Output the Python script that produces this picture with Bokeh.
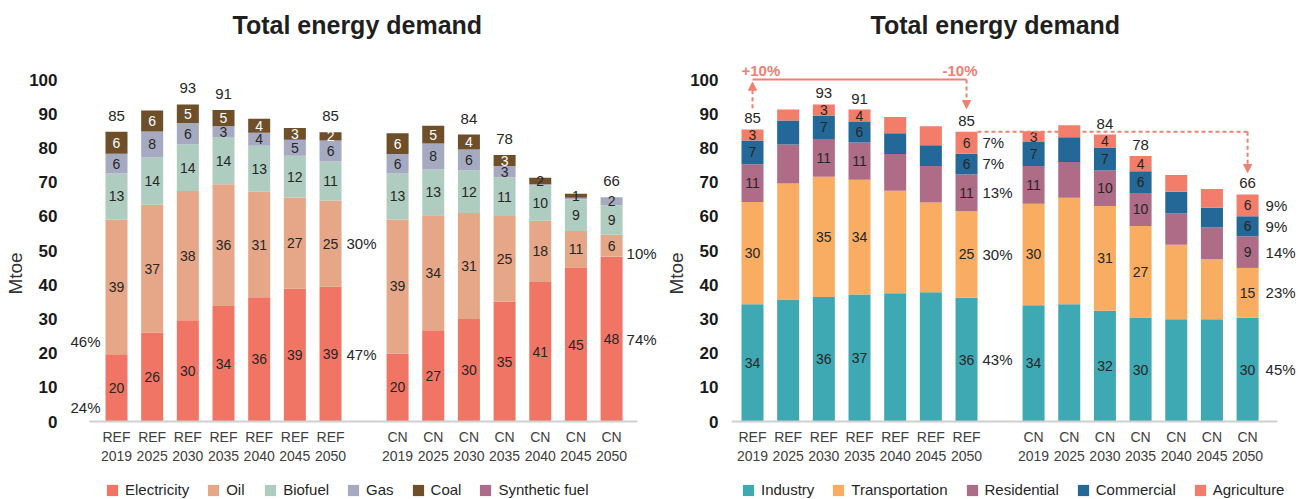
from bokeh.plotting import figure
from bokeh.layouts import row
from bokeh.models import (ColumnDataSource, FixedTicker, Legend, LegendItem, Arrow,
                          NormalHead, Range1d)
from bokeh.core.properties import value
from bokeh.embed import file_html
from bokeh.resources import INLINE

FONT = "Liberation Sans"
DARK = "#262626"

# ---------------- data ----------------
scenarios = ["REF", "REF", "REF", "REF", "REF", "REF", "REF",
             "CN", "CN", "CN", "CN", "CN", "CN", "CN"]
years = ["2019", "2025", "2030", "2035", "2040", "2045", "2050",
         "2019", "2025", "2030", "2035", "2040", "2045", "2050"]

# Left chart: by fuel (Mtoe)
fuel_names = ["Electricity", "Oil", "Biofuel", "Gas", "Coal", "Synthetic fuel"]
electricity = [19.7, 26.0, 29.6, 33.8, 36.3, 38.8, 39.4, 19.9, 26.7, 30.0, 35.0, 40.8, 44.9, 48.2]
oil = [39.4, 37.4, 37.8, 35.6, 30.9, 26.7, 25.2, 39.2, 33.6, 31.0, 25.1, 17.9, 10.8, 6.4]
biofuel = [13.4, 13.8, 13.7, 13.8, 13.4, 12.2, 11.4, 13.4, 13.4, 12.4, 11.3, 10.3, 9.3, 8.6]
gas = [5.8, 7.6, 6.2, 3.1, 3.8, 4.7, 6.2, 5.7, 7.6, 6.1, 3.3, 0.4, 0.4, 2.4]
coal = [6.4, 6.1, 5.4, 4.8, 4.1, 3.4, 2.4, 6.1, 5.2, 4.4, 3.2, 1.9, 1.2, 0.0]
synthetic_fuel = [0.0, 0.0, 0.0, 0.0, 0.0, 0.0, 0.0, 0.0, 0.0, 0.0, 0.0, 0.0, 0.0, 0.0]
fuel_colors = ["#f07565", "#e5a787", "#aecdc0", "#a6aac1", "#6e4f2a", "#ae6c8a"]
fuel_labeled = [True, True, True, True, True, True, True,
                True, True, True, True, True, True, True]
fuel_total_shown = [True, False, True, True, False, False, True,
                    False, False, True, True, False, False, True]

# Right chart: by sector (Mtoe)
sector_names = ["Industry", "Transportation", "Residential", "Commercial", "Agriculture"]
industry = [34.3, 35.7, 36.4, 37.1, 37.5, 37.8, 36.2, 34.0, 34.3, 32.4, 30.4, 29.9, 29.9, 30.3]
transportation = [29.9, 33.9, 35.2, 33.6, 30.0, 26.2, 25.3, 29.7, 31.1, 30.6, 26.8, 21.8, 17.5, 14.6]
residential = [11.0, 11.4, 11.0, 10.9, 10.7, 10.7, 10.8, 11.0, 10.5, 10.4, 9.6, 9.1, 9.3, 9.3]
commercial = [7.0, 7.0, 6.9, 6.0, 6.1, 6.1, 6.0, 7.0, 7.2, 6.7, 6.4, 6.4, 5.8, 5.8]
agriculture = [3.2, 3.2, 3.2, 3.6, 4.7, 5.5, 6.4, 3.2, 3.5, 3.8, 4.4, 4.9, 5.5, 6.4]
sector_colors = ["#3ea8b3", "#f8ad62", "#af6c87", "#236896", "#f27d6a"]
sector_labeled = [True, False, True, True, False, False, True,
                  True, False, True, True, False, False, True]
sector_total_shown = [True, False, True, True, False, False, True,
                      False, False, True, True, False, False, True]

# share annotations
fuel_share_ref2019 = ["24%", "46%"]          # electricity, oil
fuel_share_ref2050 = ["47%", "30%"]          # electricity, oil
fuel_share_cn2050 = ["74%", "10%"]           # electricity, oil
sector_share_ref2050 = ["43%", "30%", "13%", "7%", "7%"]
sector_share_cn2050 = ["45%", "23%", "14%", "9%", "9%"]
change_labels = ["+10%", "-10%"]

# ---------------- layout helpers ----------------
GAP = 1.88
xpos = [float(i) for i in range(7)] + [round(6 + GAP + i, 2) for i in range(7)]
tick_text = {x: f"{s}\n{y}" for x, s, y in zip(xpos, scenarios, years)}
BAR_W = 0.617
HALF = BAR_W / 2
FIG_H = 499
TOP = 47                        # frame top (px)
BASE = 421                      # baseline (px)
PY = 3.42                       # px per Mtoe
Y_HIGH = (BASE - TOP) / PY
Y_LOW = -(FIG_H - BASE) / PY    # frame reaches below the baseline to hold the legend
BORDER_L = 70


def make_fig(width, x_start, x_end, bounds, title_offset):
    p = figure(width=width, height=FIG_H,
               x_range=Range1d(x_start, x_end), y_range=Range1d(Y_LOW, Y_HIGH),
               output_backend="svg", toolbar_location=None,
               min_border_left=BORDER_L, min_border_right=0,
               min_border_top=TOP, min_border_bottom=0,
               title="Total energy demand")
    p.title.text_font = FONT
    p.title.text_font_size = "25px"
    p.title.text_font_style = "bold"
    p.title.text_color = "#1f1f1f"
    p.title.align = "left"
    p.title.offset = title_offset
    p.title.standoff = 17
    p.xgrid.visible = False
    p.ygrid.visible = False
    p.outline_line_color = None

    xa = p.xaxis[0]
    xa.fixed_location = 0
    xa.ticker = FixedTicker(ticks=xpos)
    xa.major_label_overrides = tick_text
    xa.bounds = bounds
    xa.axis_line_color = "#d0d0d0"
    xa.axis_line_width = 2
    xa.major_tick_line_color = None
    xa.minor_tick_line_color = None
    xa.major_label_text_font = FONT
    xa.major_label_text_font_size = "14px"
    xa.major_label_text_color = "#404040"
    xa.major_label_standoff = 1

    ya = p.yaxis[0]
    ya.ticker = FixedTicker(ticks=[0, 10, 20, 30, 40, 50, 60, 70, 80, 90, 100])
    ya.bounds = (0, 100)
    ya.axis_line_color = None
    ya.major_tick_line_color = None
    ya.minor_tick_line_color = None
    ya.major_label_text_font = FONT
    ya.major_label_text_font_size = "17px"
    ya.major_label_text_font_style = "bold"
    ya.major_label_text_color = "#1a1a1a"
    ya.major_label_standoff = 7
    ya.axis_label = "Mtoe"
    ya.axis_label_text_font = FONT
    ya.axis_label_text_font_size = "19px"
    ya.axis_label_text_font_style = "normal"
    ya.axis_label_text_color = "#333333"
    ya.axis_label_standoff = 0
    return p


def add_stack(p, names, series, colors, labeled, total_shown, light_min, total_offset, legend_x):
    data = {"x": xpos}
    for n, s in zip(names, series):
        data[n] = s
    src = ColumnDataSource(data)
    rs = p.vbar_stack(names, x="x", width=BAR_W, source=src,
                      fill_color=colors, line_color=None)

    lx, ly, lt, lc = [], [], [], []
    bottoms = [0.0] * len(xpos)
    for k, vals in enumerate(series):
        for i, v in enumerate(vals):
            if labeled[i] and round(v) >= 1:
                lx.append(xpos[i])
                ly.append(bottoms[i] + v / 2)
                lt.append(str(int(round(v))))
                lc.append("#ffffff" if v >= light_min[k] else DARK)
            bottoms[i] += v
    p.text(x=lx, y=ly, text=lt, text_color=lc, text_font=value(FONT),
           text_font_size="14px", text_align="center", text_baseline="middle")

    tx = [xpos[i] for i in range(len(xpos)) if total_shown[i]]
    ty = [bottoms[i] for i in range(len(xpos)) if total_shown[i]]
    tt = [str(int(round(bottoms[i]))) for i in range(len(xpos)) if total_shown[i]]
    p.text(x=tx, y=ty, text=tt, text_color=DARK, text_font=value(FONT),
           text_font_size="15px", text_align="center", text_baseline="middle",
           y_offset=total_offset)

    legend = Legend(items=[LegendItem(label=n, renderers=[r]) for n, r in zip(names, rs)],
                    location=(legend_x, 1), orientation="horizontal",
                    padding=0, margin=0, spacing=17, label_standoff=6,
                    glyph_width=14, glyph_height=14, label_height=14,
                    label_text_font=FONT, label_text_font_size="15px",
                    label_text_color=DARK, border_line_color=None,
                    background_fill_alpha=0)
    p.add_layout(legend)
    return bottoms


def centers(series, i):
    out, b = [], 0.0
    for s in series:
        out.append(b + s[i] / 2)
        b += s[i]
    return out


def share_text(p, x, ys, texts, x_offset, align="left", y_offset=0, size="15px"):
    p.text(x=[x] * len(ys), y=ys, text=texts, text_color=DARK, text_font=value(FONT),
           text_font_size=size, text_align=align, text_baseline="middle",
           x_offset=x_offset, y_offset=y_offset)


PX = 35.67
# ---------------- left chart (page x 0 .. 661, frame from 70) ----------------
W1 = 661
p1 = make_fig(W1, (BORDER_L - 116) / PX, (W1 - 116) / PX,
              ((89 - 116) / PX, (637 - 116) / PX), 162)
fuel_series = [electricity, oil, biofuel, gas, coal, synthetic_fuel]
add_stack(p1, fuel_names, fuel_series, fuel_colors, fuel_labeled, fuel_total_shown,
          [1e9, 1e9, 1e9, 1e9, 2.0, 1e9], -16, 35)

share_text(p1, xpos[0] - HALF, [0.0], [fuel_share_ref2019[0]], -5, "right", -14)
share_text(p1, xpos[0] - HALF, [electricity[0]], [fuel_share_ref2019[1]], -5, "right", -13)
c6 = centers(fuel_series, 6)
share_text(p1, xpos[6] + HALF, [c6[0], c6[1]], fuel_share_ref2050, 5)
c13 = centers(fuel_series, 13)
share_text(p1, xpos[13] + HALF, [c13[0]], [fuel_share_cn2050[0]], 4)
share_text(p1, xpos[13] + HALF, [c13[1]], [fuel_share_cn2050[1]], 4, y_offset=8)

# ---------------- right chart (page x 661 .. 1298, frame from 731) ----------------
W2 = 1298 - W1
F2 = W1 + BORDER_L
p2 = make_fig(W2, (F2 - 752) / PX, (1298 - 752) / PX,
              ((F2 - 752) / PX, (1277 - 752) / PX), 139)
sector_series = [industry, transportation, residential, commercial, agriculture]
tops = add_stack(p2, sector_names, sector_series, sector_colors, sector_labeled,
                 sector_total_shown, [1e9] * 5, -11, 10)

s6 = centers(sector_series, 6)
share_text(p2, xpos[6] + HALF, s6, sector_share_ref2050, 5)
s13 = centers(sector_series, 13)
share_text(p2, xpos[13] + HALF, s13, sector_share_cn2050, 7)

ARW = "#f08070"
p2.line(x=[xpos[0], xpos[6]], y=[100, 100], line_color=ARW, line_width=2)
p2.add_layout(Arrow(end=NormalHead(size=8, fill_color=ARW, line_color=ARW),
                    x_start=xpos[0], y_start=tops[0] + 6.2, x_end=xpos[0], y_end=99.2,
                    line_color=ARW, line_width=2, line_dash="4 3"))
p2.add_layout(Arrow(end=NormalHead(size=8, fill_color=ARW, line_color=ARW),
                    x_start=xpos[6], y_start=100, x_end=xpos[6], y_end=tops[6] + 6.8,
                    line_color=ARW, line_width=2, line_dash="4 3"))
p2.line(x=[xpos[6] + HALF, xpos[13]], y=[tops[6], tops[6]], line_color=ARW,
        line_width=2, line_dash="4 3")
p2.add_layout(Arrow(end=NormalHead(size=8, fill_color=ARW, line_color=ARW),
                    x_start=xpos[13], y_start=tops[6], x_end=xpos[13], y_end=tops[13] + 6.4,
                    line_color=ARW, line_width=2, line_dash="4 3"))
p2.text(x=[xpos[0] - HALF], y=[102.6], text=[change_labels[0]], text_color=ARW,
        text_font=value(FONT), text_font_size="15px", text_font_style="bold",
        text_align="left", text_baseline="middle")
p2.text(x=[xpos[6] + HALF], y=[102.6], text=[change_labels[1]], text_color=ARW,
        text_font=value(FONT), text_font_size="15px", text_font_style="bold",
        text_align="right", text_baseline="middle")

layout = row(p1, p2)
open("out.html", "w").write(file_html(layout, INLINE))
